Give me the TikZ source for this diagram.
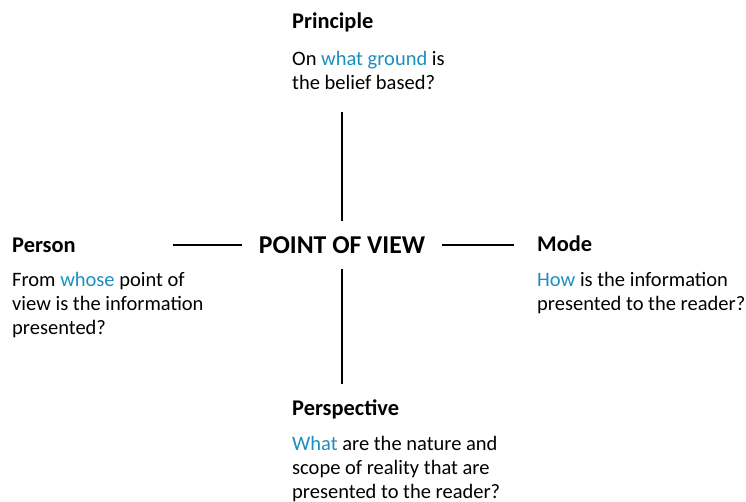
\documentclass[tikz,border=0pt]{standalone}
\usepackage{fontspec}
\setmainfont{Carlito}
\usepackage{xcolor}
\usetikzlibrary{positioning}
\definecolor{destaque}{HTML}{1B8FBF}
\tikzset{
    titulo/.style={anchor=base west, inner sep=0pt,
        font=\bfseries\fontsize{22.4}{26}\selectfont},
    pergunta/.style={anchor=base west, inner sep=0pt,
        font=\fontsize{20.5}{24}\selectfont},
    centro/.style={inner xsep=17pt, minimum height=48pt,
        font=\bfseries\fontsize{25.7}{30}\selectfont},
    ligacao/.style={line width=1.6pt}
}
\newcommand{\realce}[1]{\textcolor{destaque}{#1}}
\newcommand{\linhas}[1]{\begin{tabular}[t]{@{}l@{}}#1\end{tabular}}
\begin{document}
\begin{tikzpicture}[x=1pt, y=-1pt]
    \useasboundingbox (0,0) rectangle (746,502);
    % centre
    \node[centro] (pov) at (342,245) {POINT OF VIEW};
    % four aspects
    \node[titulo] (principle) at (292,29) {Principle};
    \node[pergunta] (principleq) at (292,66)
        {\linhas{On \realce{what ground} is\\the belief based?}};
    \node[titulo] (person) at (12,253) {Person};
    \node[pergunta] (personq) at (12,287)
        {\linhas{From \realce{whose} point of\\view is the information\\presented?}};
    \node[titulo] (mode) at (537,252) {Mode};
    \node[pergunta] (modeq) at (537,287)
        {\linhas{\realce{How} is the information\\presented to the reader?}};
    \node[titulo] (perspective) at (292,415) {Perspective};
    \node[pergunta] (perspectiveq) at (292,450)
        {\linhas{\realce{What} are the nature and\\scope of reality that are\\presented to the reader?}};
    % free ends of the connectors
    \coordinate (topo) at (343,112);
    \coordinate (base) at (343,384);
    \coordinate (esq) at (173,245);
    \coordinate (dir) at (514,245);
    \draw[ligacao] (pov.north) -- (pov.north |- topo);
    \draw[ligacao] (pov.south) -- (pov.south |- base);
    \draw[ligacao] (pov.west) -- (esq);
    \draw[ligacao] (pov.east) -- (dir);
\end{tikzpicture}
\end{document}
